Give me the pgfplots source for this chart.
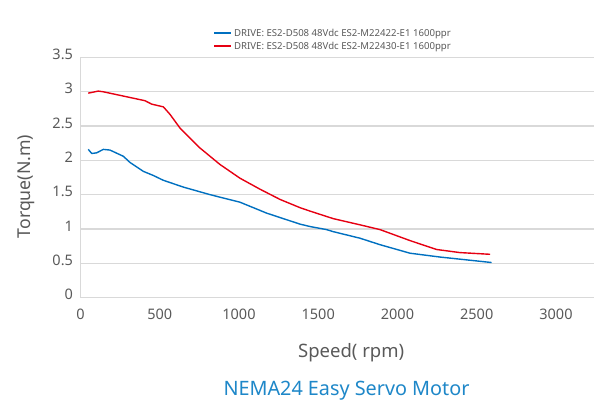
\documentclass[border=0pt]{standalone}
\usepackage{pgfplots}
\pgfplotsset{compat=1.18}
\usepackage{fontspec}
\setmainfont{Noto Sans}
\definecolor{sblue}{RGB}{0,112,192}
\definecolor{sred}{RGB}{230,0,18}
\definecolor{tgray}{RGB}{89,89,89}
\definecolor{ggray}{RGB}{217,217,217}
\definecolor{ttl}{RGB}{30,135,200}
\begin{document}
\begin{tikzpicture}[x=1pt,y=1pt]
\begin{axis}[
  at={(0pt,0pt)}, anchor=origin,
  scale only axis, width=513.5pt, height=240pt,
  xmin=0, xmax=3240, ymin=0, ymax=3.5,
  xtick={0,500,1000,1500,2000,2500,3000},
  ytick={0,0.5,1,1.5,2,2.5,3,3.5},
  axis x line*=bottom, axis y line*=left,
  axis line style={ggray, line width=1pt},
  x axis line style={-}, y axis line style={-},
  major tick length=0pt,
  ymajorgrids, grid style={ggray, line width=1.3pt},
  /pgf/number format/assume math mode=true,
  /pgf/number format/fixed,
  /pgf/number format/1000 sep={},
  tick label style={font=\fontsize{14.5}{16}\selectfont, text=tgray},
  xticklabel style={yshift=-8pt},
  yticklabel style={xshift=-4pt, yshift=3pt},
  xlabel={Speed( rpm)},
  ylabel={Torque(N.m)},
  xlabel style={at={(axis description cs:0.527,-0.231)}, anchor=center, font=\fontsize{18.5}{20}\selectfont, text=tgray},
  ylabel style={at={(axis description cs:-0.106,0.4625)}, anchor=center, font=\fontsize{17.7}{20}\selectfont, text=tgray},
  legend style={at={(axis description cs:0.252,1.137)}, anchor=north west, draw=none, fill=none,
    font=\fontsize{9.6}{11}\selectfont, row sep=0.4pt, nodes={text=tgray}},
  legend cell align=left,
  legend image post style={line width=2pt},
]
\addplot[sblue, line width=1.4pt, line join=round] coordinates {
(49,2.16) (71,2.10) (102,2.11) (144,2.16) (186,2.15) (270,2.06) (312,1.97) (396,1.84) (459,1.78) (522,1.71) (649,1.61) (817,1.50) (1006,1.39) (1175,1.23) (1385,1.07) (1448,1.035) (1553,0.99) (1595,0.96) (1763,0.865) (1890,0.77) (2079,0.646) (2268,0.59) (2594,0.51)
};
\addlegendentry{DRIVE: ES2-D508 48Vdc ES2-M22422-E1 1600ppr}
\addplot[sred, line width=1.4pt, line join=round] coordinates {
(49,2.98) (112,3.01) (144,3.0) (407,2.87) (449,2.82) (523,2.78) (565,2.67) (628,2.47) (754,2.18) (880,1.94) (1006,1.74) (1132,1.58) (1259,1.43) (1385,1.31) (1448,1.26) (1595,1.15) (1763,1.06) (1890,0.99) (2079,0.83) (2247,0.70) (2394,0.655) (2584,0.63)
};
\addlegendentry{DRIVE: ES2-D508 48Vdc ES2-M22430-E1 1600ppr}
\end{axis}
\node[anchor=center, font=\fontsize{19.8}{22}\selectfont, text=ttl] at (266pt,-93pt) {NEMA24 Easy Servo Motor};
\pgfresetboundingbox
\path (-80.5pt,-103.5pt) rectangle (513.5pt,297.5pt);
\end{tikzpicture}
\end{document}
